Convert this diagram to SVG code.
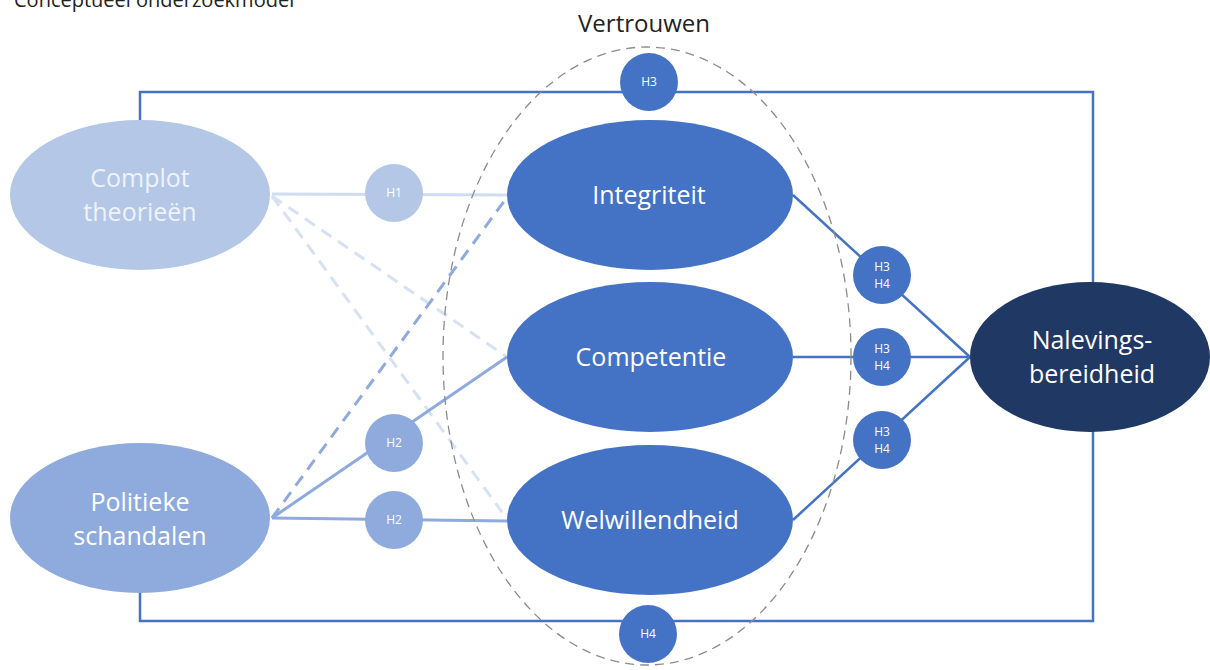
<svg xmlns="http://www.w3.org/2000/svg" width="1210" height="670" viewBox="0 0 1210 670">
<style>
text{font-family:"Open Sans","Noto Sans","Liberation Sans",sans-serif;text-anchor:middle}
.lbl{font-size:25px;fill:#ffffff}
.lbll{font-size:25px;fill:#eef3fb}
.h{font-size:12px;fill:#ffffff}
.blue{stroke:#4472c4;stroke-width:2.5;fill:none}
.c1{fill:#b4c7e7}
.c2{fill:#8faadc}
.c3{fill:#4472c4}
.c4{fill:#203864}
</style>
<rect width="1210" height="670" fill="#ffffff"/>
<text x="14" y="7" style="text-anchor:start;font-size:20px;fill:#222">Conceptueel onderzoekmodel</text>
<text x="644" y="32" style="font-size:24px;fill:#222">Vertrouwen</text>
<g id="connectors">
  <path d="M140 125 V92 H1093 V290 M1093 425 V621 H140 V588" class="blue"/>
  <line x1="272" y1="194" x2="507" y2="195" stroke="#d0dcf1" stroke-width="3"/>
  <line x1="272" y1="196" x2="507" y2="357" stroke="#d6e1f3" stroke-width="3" stroke-dasharray="12,8"/>
  <line x1="272" y1="196" x2="502" y2="512" stroke="#d6e1f3" stroke-width="3" stroke-dasharray="12,8"/>
  <line x1="272" y1="518" x2="505" y2="200" stroke="#8faadc" stroke-width="3" stroke-dasharray="12,8"/>
  <line x1="272" y1="518" x2="507" y2="357" stroke="#8faadc" stroke-width="3"/>
  <line x1="272" y1="518" x2="507" y2="521" stroke="#8faadc" stroke-width="3"/>
  <line x1="793" y1="195" x2="970" y2="357" class="blue"/>
  <line x1="793" y1="357" x2="970" y2="357" class="blue"/>
  <line x1="793" y1="520" x2="970" y2="357" class="blue"/>
</g>
<g id="complot"><ellipse cx="140" cy="195" rx="130" ry="75" class="c1"/><text x="140" y="187" class="lbll">Complot</text><text x="140" y="221" class="lbll">theorieën</text></g>
<g id="politiek"><ellipse cx="140" cy="518" rx="130" ry="75" class="c2"/><text x="140" y="511" class="lbl">Politieke</text><text x="140" y="545" class="lbl">schandalen</text></g>
<g id="integriteit"><ellipse cx="650" cy="195" rx="143" ry="75" class="c3"/><text x="649" y="204" class="lbl">Integriteit</text></g>
<g id="competentie"><ellipse cx="650" cy="357" rx="143" ry="75" class="c3"/><text x="651" y="366" class="lbl">Competentie</text></g>
<g id="welwillendheid"><ellipse cx="650" cy="520" rx="143" ry="75" class="c3"/><text x="650" y="529" class="lbl">Welwillendheid</text></g>
<g id="naleving"><ellipse cx="1090" cy="357" rx="120" ry="75" class="c4"/><text x="1092" y="349" class="lbl">Nalevings-</text><text x="1092" y="383" class="lbl">bereidheid</text></g>
<g id="vertrouwen"><ellipse cx="647" cy="356" rx="204" ry="309" fill="none" stroke="#8c8c8c" stroke-width="1.3" stroke-dasharray="9,6"/></g>
<g id="h3top"><circle cx="649" cy="82" r="29" class="c3"/><text x="649" y="86" class="h">H3</text></g>
<g id="h4bottom"><circle cx="648" cy="634" r="29" class="c3"/><text x="648" y="638" class="h">H4</text></g>
<g id="h1"><circle cx="394" cy="193" r="29" class="c1"/><text x="394" y="197" class="h">H1</text></g>
<g id="h2a"><circle cx="394" cy="443" r="29" class="c2"/><text x="394" y="447" class="h">H2</text></g>
<g id="h2b"><circle cx="394" cy="520" r="29" class="c2"/><text x="394" y="524" class="h">H2</text></g>
<g id="h34a"><circle cx="882" cy="275" r="29" class="c3"/><text x="882" y="271" class="h">H3</text><text x="882" y="288" class="h">H4</text></g>
<g id="h34b"><circle cx="882" cy="357" r="29" class="c3"/><text x="882" y="353" class="h">H3</text><text x="882" y="370" class="h">H4</text></g>
<g id="h34c"><circle cx="882" cy="440" r="29" class="c3"/><text x="882" y="436" class="h">H3</text><text x="882" y="453" class="h">H4</text></g>
</svg>
